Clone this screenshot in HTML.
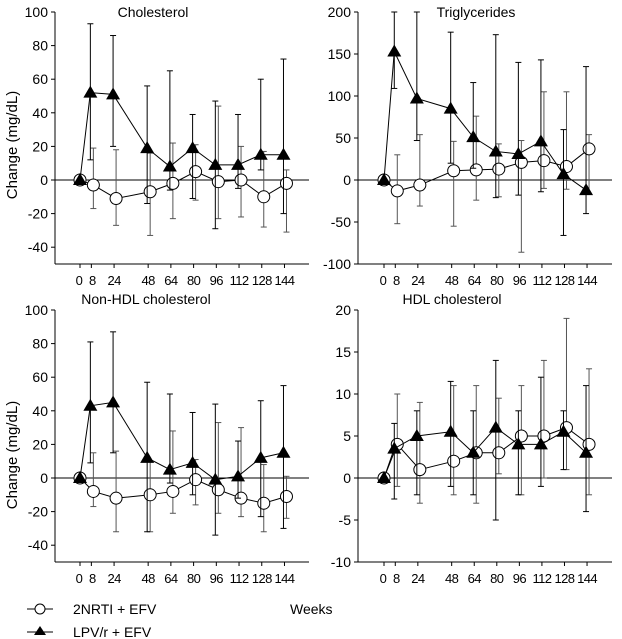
<!DOCTYPE html>
<html><head><meta charset="utf-8"><style>
html,body{margin:0;padding:0;background:#fff}
svg{display:block;font-family:"Liberation Sans",Arial,sans-serif}
</style></head><body>
<svg id="chart" width="622" height="639" viewBox="0 0 622 639" xmlns="http://www.w3.org/2000/svg"></svg>
<script>
const weeks=[0,8,24,48,64,80,96,112,128,144];
// Cholesterol
const cholLpv=[0,52,51,19,8,19,9,9,15,15];
const cholLpvLo=[0,12,20,-14,-6,-11,-29,-5,6,-20];
const cholLpvHi=[0,93,86,56,65,39,47,39,60,72];
const cholNrti=[0,-3,-11,-7,-2,5,-1,0,-10,-2];
const cholNrtiLo=[0,-17,-27,-33,-23,-12,-23,-22,-28,-31];
const cholNrtiHi=[0,19,18,16,22,21,44,20,17,6];
// Triglycerides
const trigLpv=[0,153,97,85,51,34,31,46,7,-12];
const trigLpvLo=[0,109,47,20,14,-21,-18,-14,-66,-40];
const trigLpvHi=[0,200,200,176,116,173,140,143,60,135];
const trigNrti=[0,-13,-6,11,12,13,21,23,16,37];
const trigNrtiLo=[0,-52,-31,-55,-24,-20,-86,-10,-11,-17];
const trigNrtiHi=[0,30,54,46,76,43,47,105,105,54];
// Non-HDL
const nhdlLpv=[0,43,45,12,5,9,-1,1,12,15];
const nhdlLpvLo=[0,9,15,-32,-3,-10,-34,-12,-23,-30];
const nhdlLpvHi=[0,81,87,57,50,39,44,22,46,55];
const nhdlNrti=[0,-8,-12,-10,-8,-1,-7,-12,-15,-11];
const nhdlNrtiLo=[0,-17,-32,-32,-21,-16,-21,-23,-32,-24];
const nhdlNrtiHi=[0,15,16,10,28,11,33,30,8,1];
// HDL
const hdlLpv=[0,3.5,5,5.5,3,6,4,4,5.5,3];
const hdlLpvLo=[0,-2.5,-2,-1,-2,-5,-2,-1,1,-4];
const hdlLpvHi=[0,6.5,8,11.5,8,14,8,12,8,11];
const hdlNrti=[0,4,1,2,3,3,5,5,6,4];
const hdlNrtiLo=[0,-1,-3,-2,-3,0.5,-2,0,1,-2];
const hdlNrtiHi=[0,10,9,11,11,9.5,11,14,19,13];

const cholTicks=[-40,-20,0,20,40,60,80,100];
const trigTicks=[-100,-50,0,50,100,150,200];
const hdlTicks=[-10,-5,0,5,10,15,20];

const svg=document.getElementById('chart');
const NS='http://www.w3.org/2000/svg';
function mk(tag,attrs,parent){const e=document.createElementNS(NS,tag);for(const k in attrs)e.setAttribute(k,attrs[k]);(parent||svg).appendChild(e);return e;}

function panel(cfg){
  const g=mk('g',{});
  
  
  const yS=v=>cfg.yBot-(v-cfg.ymin)/(cfg.ymax-cfg.ymin)*(cfg.yBot-cfg.yTop);
  const xS=w=>cfg.x0+w*cfg.xk;
  const ya=mk('line',{x1:cfg.ax,y1:cfg.yTop,x2:cfg.ax,y2:cfg.yBot,stroke:'#000','stroke-width':1},g);
  
  const xa=mk('line',{x1:cfg.ax,y1:cfg.yBot,x2:cfg.xEnd,y2:cfg.yBot,stroke:'#000','stroke-width':1},g);
  
  const zl=mk('line',{x1:cfg.ax,y1:yS(0),x2:cfg.xEnd,y2:yS(0),stroke:'#000','stroke-width':1},g);
  
  cfg.ticks.forEach(t=>{
    mk('line',{x1:cfg.ax-4,y1:yS(t),x2:cfg.ax,y2:yS(t),stroke:'#000'},g);
    const tx=mk('text',{x:cfg.ax-7,y:yS(t)+5,'text-anchor':'end','font-size':14},g);
    tx.textContent=t;
    
  });
  weeks.forEach(w=>{
    mk('line',{x1:xS(w),y1:cfg.yBot,x2:xS(w),y2:cfg.yBot+4,stroke:'#000'},g);
    const tx=mk('text',{x:xS(w)+(w===0?-1:w===8?1:0),y:cfg.yBot+21,'text-anchor':'middle','font-size':13,'letter-spacing':'-0.6'},g);
    tx.textContent=w;
    
  });
  const ti=mk('text',{x:cfg.tx,y:cfg.ty,'text-anchor':'middle','font-size':14},g);
  ti.textContent=cfg.title;
  
  const clipY=v=>Math.max(cfg.yTop,Math.min(cfg.yBot,yS(v)));
  function series(vals,lo,hi,off,kind){
    const sg=mk('g',{},g);
    
    
    const px=weeks.map((w,i)=>xS(w)+(i===0?0:off));
    weeks.forEach((w,i)=>{
      if(i===0)return;
      const x=px[i];
      const eb=mk('line',{x1:x,y1:clipY(lo[i]),x2:x,y2:clipY(hi[i]),stroke:kind==='tri'?'#000':'#555','stroke-width':1},sg);
      
      [lo[i],hi[i]].forEach(v=>{ if(v<=cfg.ymax) mk('line',{x1:x-3,y1:yS(v),x2:x+3,y2:yS(v),stroke:kind==='tri'?'#000':'#555'},sg);});
    });
    const pts=vals.map((v,i)=>px[i]+','+yS(v)).join(' ');
    const pl=mk('polyline',{points:pts,fill:'none',stroke:'#000','stroke-width':1},sg);
    
    vals.forEach((v,i)=>{
      const x=px[i],y=yS(v);let m;
      if(kind==='tri') m=mk('polygon',{points:`${x},${y-7} ${x-7},${y+5} ${x+7},${y+5}`,fill:'#000'},sg);
      else m=mk('circle',{cx:x,cy:y,r:6,fill:'#fff',stroke:'#000','stroke-width':1},sg);
      
    });
  }
  series(cfg.nrti,cfg.nrtiLo,cfg.nrtiHi,2,'circ');
  series(cfg.lpv,cfg.lpvLo,cfg.lpvHi,-1,'tri');
}
const L={ax:55,x0:80,xk:1.42,xEnd:309};
const R={ax:358,x0:384,xk:1.41,xEnd:612};
panel({...L,name:'cholesterol-panel',title:'Cholesterol',tx:153,ty:17,yTop:12,yBot:264,ymin:-50,ymax:100,ticks:cholTicks,lpv:cholLpv,lpvLo:cholLpvLo,lpvHi:cholLpvHi,nrti:cholNrti,nrtiLo:cholNrtiLo,nrtiHi:cholNrtiHi});
panel({...R,name:'triglycerides-panel',title:'Triglycerides',tx:476,ty:17,yTop:12,yBot:264,ymin:-100,ymax:200,ticks:trigTicks,lpv:trigLpv,lpvLo:trigLpvLo,lpvHi:trigLpvHi,nrti:trigNrti,nrtiLo:trigNrtiLo,nrtiHi:trigNrtiHi});
panel({...L,name:'non-hdl-panel',title:'Non-HDL cholesterol',tx:146,ty:304,yTop:310,yBot:562,ymin:-50,ymax:100,ticks:cholTicks,lpv:nhdlLpv,lpvLo:nhdlLpvLo,lpvHi:nhdlLpvHi,nrti:nhdlNrti,nrtiLo:nhdlNrtiLo,nrtiHi:nhdlNrtiHi});
panel({...R,name:'hdl-panel',title:'HDL cholesterol',tx:452,ty:304,yTop:310,yBot:562,ymin:-10,ymax:20,ticks:hdlTicks,lpv:hdlLpv,lpvLo:hdlLpvLo,lpvHi:hdlLpvHi,nrti:hdlNrti,nrtiLo:hdlNrtiLo,nrtiHi:hdlNrtiHi});

[145,455].forEach(cy=>{
  const t=mk('text',{x:0,y:0,'text-anchor':'middle','font-size':15,transform:`translate(17,${cy}) rotate(-90)`});
  t.textContent='Change (mg/dL)';
  
  
});
const lg=mk('g',{});


mk('line',{x1:27,y1:609,x2:53,y2:609,stroke:'#000'},lg);
mk('circle',{cx:40,cy:609,r:5,fill:'#fff',stroke:'#000'},lg);
const l1=mk('text',{x:73,y:614,'font-size':14},lg);l1.textContent='2NRTI + EFV';


mk('line',{x1:27,y1:632,x2:53,y2:632,stroke:'#000'},lg);
mk('polygon',{points:'40,626 34,635 46,635',fill:'#000'},lg);
const l2=mk('text',{x:73,y:637,'font-size':14},lg);l2.textContent='LPV/r + EFV';


const wk=mk('text',{x:290,y:614,'font-size':14});wk.textContent='Weeks';


</script>
</body></html>
